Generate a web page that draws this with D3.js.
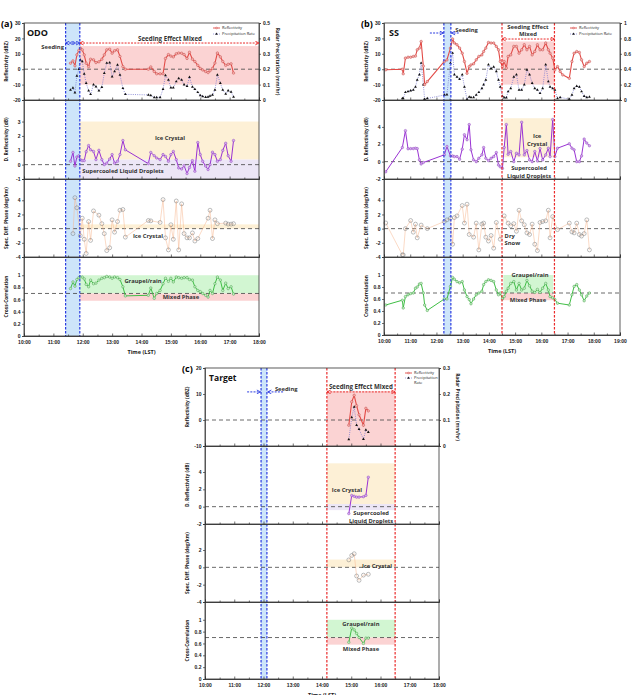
<!DOCTYPE html>
<html>
<head>
<meta charset="utf-8">
<script src="https://d3js.org/d3.v7.min.js"></script>
<style>
  body { margin: 0; background: #fff; }
  svg { display: block; font-family: "Open Sans", "Noto Sans", sans-serif; }
  .axis text { font-size: 5px; font-weight: 600; fill: #222; }
  .axis path, .axis line { stroke: #333; stroke-width: 0.7; }
  .lab { font-size: 4.8px; font-weight: 700; fill: #222; }
  .note { font-size: 5.8px; font-weight: 700; fill: #333; }
  .leg { font-size: 4px; fill: #222; }
</style>
</head>
<body>
<svg width="634" height="695"></svg>
<script>
// ---- panel (a) ODO ----
const timesA = ["11:35","11:40","11:44","11:48","11:52","11:55","11:59","12:03","12:07","12:12",
  "12:16","12:22","12:27","12:33","12:39","12:44","12:49","12:55","13:00","13:05",
  "13:11","13:16","13:22","13:27","14:14","14:19","14:26","14:31","14:38","14:44",
  "14:49","14:55","15:00","15:05","15:11","15:16","15:22","15:27","15:33","15:38",
  "15:44","15:49","15:55","16:00","16:05","16:11","16:16","16:20","16:25","16:30",
  "16:35","16:41","16:46","16:52","16:57","17:03","17:08"];
const reflA = [3.9,5.4,2.2,9.3,12.2,13.7,12.6,9.3,3.9,1.7,
  6.5,6.1,4.3,4.8,6.5,9.3,12.6,13.0,10.4,12.0,
  12.6,8.3,1.7,0,0,1.5,-1.5,-3,-3,-3,
  7,9.5,8.5,8,10,10.5,10.4,9.5,7,11,
  6.5,5,2.5,0.5,-0.5,-1.5,-2.2,-1,0.5,4,
  10.5,8,5,2.5,3.2,3.5,-2.5];
const rainA = [0.065,0.078,0.048,0.157,0.2,0.26,0.25,0.17,0.11,0.06,
  0.037,0.10,0.087,0.06,0.083,0.174,0.24,0.243,0.152,0.185,
  0.228,0.163,0.076,0.037,0.033,0.03,0.017,0.017,0.017,0.07,
  0.16,0.13,0.08,0.08,0.12,0.14,0.13,0.1,0.09,0.148,
  0.085,0.07,0.05,0.03,0.024,0.018,0.02,0.026,0.033,0.065,
  0.163,0.11,0.065,0.04,0.06,0.052,0.02];
const zdrA = [0.23,0.85,-0.1,0.53,0.62,0.35,0.28,0.28,0.9,1.33,
  1.03,0.92,0.35,1.0,0.35,0,0.1,0.39,0.7,0.1,
  0.23,0.7,1.68,1.03,0.07,0.85,0.62,0.46,0.35,0.7,
  0.57,0.23,0.7,0.92,0.35,-0.23,-0.3,-0.07,-0.62,-0.2,
  0.28,-0.46,1.54,0.7,0.23,-0.1,-0.34,0,0.87,0.7,
  0.23,0.35,0.99,1.49,0.62,0.23,1.68];
const kdpA = [null,-0.7,4.37,2.94,null,-1,1.47,-1.5,-3.5,1.0,
  -1.66,2.5,null,1.9,0.7,-0.7,-3.1,-2.7,1.24,-0.5,
  1.0,2.6,2.7,-1.2,1.15,1.1,null,null,0.87,4.1,
  -1.3,-3.0,0.55,-1.5,3.9,-3.0,3.5,-0.7,-1.3,-1.3,
  -0.6,-1.75,-1.4,null,null,null,1.47,2.6,-1.4,1.24,
  0.7,null,null,0.78,0.64,0.64,0.7];
const rhvA = [0.78,0.89,0.82,0.93,0.96,0.97,0.97,0.94,0.85,0.81,
  0.92,0.86,0.87,0.92,0.95,0.96,0.98,0.97,0.95,0.97,
  0.96,0.93,0.81,0.66,0.67,0.79,0.62,0.7,0.75,0.86,
  0.95,0.9,0.95,0.89,0.97,0.96,0.95,0.96,0.96,0.93,
  0.92,0.81,0.75,0.73,0.7,0.67,0.64,0.75,0.7,0.86,
  0.97,0.92,0.75,0.87,0.78,0.81,0.69];

// ---- panel (b) SS ----
const timesB = ["10:04","10:42","10:44","10:49","10:55","11:01","11:07","11:12","11:16","11:21",
  "11:25","11:30","11:33","11:39","12:18","12:24","12:32","12:37","12:41","12:47",
  "12:53","12:59","13:04","13:10","13:15","13:19","13:25","13:31","13:37","13:44",
  "13:48","13:53","13:59","14:05","14:11","14:17","14:22","14:26","14:31","14:35",
  "14:40","14:44","14:50","14:57","15:03","15:09","15:15","15:21","15:27","15:33",
  "15:39","15:45","15:51","15:57","16:03","16:10","16:16","16:20","16:26","16:31",
  "16:37","16:43","16:49","17:04","17:10","17:15","17:21","17:27","17:32","17:38",
  "17:44","17:50"];
const reflB = [-0.4,0,-3,7.2,7.8,7.8,8.3,8.5,12.6,13.7,
  18,2,-10,-8,5,6,13.7,19.6,17,15.9,
  13.7,10.4,5,-2.6,1.7,2.8,3.5,6.1,8.3,9.3,
  11.5,13.7,17.4,17,17,14.8,12.6,5,1.7,5,
  0.7,8.3,9.3,14.8,14.8,10.4,12.6,15.9,12.6,14.8,
  9.3,11.5,15.9,12.6,12.6,17,12.6,10.4,7.2,-0.4,
  1.7,-1.5,-3.7,-5.9,5,10.4,11.5,10.9,6.1,1.7,
  3.9,5];
const rainB = [null,0.02,0.02,0.1,0.11,0.12,0.13,0.17,0.26,0.33,
  0.48,0.2,0.01,0.02,0.065,0.07,0.48,0.61,0.33,0.3,
  0.27,0.33,0.17,0.01,0.04,0.035,0.035,0.065,0.1,0.15,
  0.2,0.26,0.46,0.41,0.43,0.37,0.26,0.17,0.05,0.03,
  0.03,0.11,0.15,0.3,0.33,0.13,0.13,0.2,0.39,0.33,
  0.22,0.15,0.13,0.087,0.15,0.46,0.24,0.17,0.15,0.13,
  0.02,0.035,null,0.01,0.065,0.15,0.18,0.17,0.11,0.05,
  0.035,0.04];
const zdrB = [-1.17,1.63,null,3.57,1.48,1.5,1.5,1.55,1.5,0.2,
  -0.27,-0.1,null,null,0.78,1.75,0.66,0.66,0.58,0.58,
  0.27,1.44,3.1,2.52,4.27,1.36,0.2,0,0.39,0.78,
  1.63,0.39,0.12,0.39,0.58,1.05,-0.39,-0.6,-0.78,1.63,
  4.27,0.85,1.17,0,0.97,0.78,4.54,0.78,1.28,0.2,
  0,1.17,0.08,1.51,0.2,0.78,1.55,0.58,4.85,0.58,
  1.55,null,null,2.06,1.55,1.36,0,0,0.66,2.6,
  2.14,1.83];
const kdpB = [0.8,-3.7,-3.7,0,null,1.15,-0.5,0.64,-1.3,null,
  0.5,null,null,0,1.0,1.24,1.47,-2.2,1.56,1.8,
  null,3.26,0.78,3.45,-0.83,null,-1.2,0.78,-3,0.64,
  0.78,-1.2,-1.75,-0.97,-2.76,0.87,null,-1.5,null,1.8,
  null,0.78,0.4,0.7,-0.37,2.6,1.1,0.55,-0.6,-0.83,
  0.64,-2.2,-3.1,0.87,1.0,1.1,2.6,-1.3,1.7,null,
  -0.14,null,null,0.78,-0.46,-0.6,0.78,-0.83,-1.05,-0.7,
  1.24,-3.0];
const rhvB = [0.5,0.58,0.45,0.64,0.67,0.69,0.7,0.78,0.8,0.85,
  0.86,0.7,0.5,0.41,0.6,0.6,0.81,0.96,0.93,0.89,
  0.87,0.89,0.75,0.64,0.59,0.52,0.6,0.67,0.7,0.73,
  0.84,0.89,0.92,0.91,0.89,0.75,0.67,0.7,0.6,0.64,
  0.73,0.78,0.86,0.89,0.75,0.86,0.75,0.78,0.91,0.82,
  0.73,0.71,0.76,0.71,0.78,0.86,0.75,0.64,0.62,0.59,
  0.53,null,null,0.5,0.67,0.81,0.84,0.75,0.67,0.57,
  0.65,0.7];

// ---- panel (c) Target ----
const timesC = ["14:55","15:01","15:06","15:11","15:16","15:25","15:30","15:35"];
const reflC = [-2,7,9.5,5.5,2,-2,4.5,3.5];
const rainC = [0.025,0.11,0.15,0.08,0.065,0.026,0.062,0.053];
const zdrC = [-0.8,1.3,1.2,1.1,1.1,1.15,1.3,3.4];
const kdpC = [0.86,1.37,1.57,-1.0,-1.5,-0.9,null,-0.8];
const rhvC = [0.62,0.86,0.83,0.77,0.7,0.6,0.69,0.69];

const rowLabels = ["Reflectivity (dBZ)", "D. Reflectivity (dB)", "Spec. Diff. Phase (deg/km)", "Cross-Correlation"];
const rhvTicks = [0, 0.2, 0.4, 0.6, 0.8, 1];

const PINK = "#fbd3d3", YEL = "#fdf0d6", LAV = "#ece6f6", GRN = "#d2f6d2", SEED = "#cde5fa";
const RED = "#ea2a2a", BLUE = "#2a3be0";

const hr = s => typeof s === "number" ? s : (([h, m]) => h + m / 60)(s.split(":").map(Number));

const svg = d3.select("svg");
const defs = svg.append("defs");
[["arrR", RED], ["arrB", BLUE]].forEach(([id, c]) => {
  defs.append("marker").attr("id", id).attr("viewBox", "0 0 8 8").attr("refX", 7).attr("refY", 4)
    .attr("markerWidth", 5).attr("markerHeight", 5).attr("markerUnits", "userSpaceOnUse")
    .attr("orient", "auto-start-reverse")
    .append("path").attr("d", "M1,1 L7,4 L1,7").attr("fill", "none").attr("stroke", c).attr("stroke-width", 1.4);
});

const panels = [
  {
    tag: "(a)", site: "ODO", times: timesA, refl: reflA, rain: rainA, zdr: zdrA, kdp: kdpA, rhv: rhvA,
    left: 24, right: 259, top: 23, rows: [100, 179, 257, 336], xEnd: 18,
    doms: [[-20, 30], [-1, 4.5], [-4, 7], [0, 1.3]],
    ticks: [[-20, -10, 0, 10, 20, 30], [-1, 0, 1, 2, 3], [-4, -2, 0, 2, 4], rhvTicks],
    rainDom: [0, 0.5], rainTicks: [0, 0.1, 0.2, 0.3, 0.4, 0.5],
    seed: ["11:25", "11:54"], effect: null, legendDx: -46, rightLabel: true,
    bands: [
      [0, 11.9, 18, -10, 15, PINK], [1, 11.9, 18, 0.35, 3, YEL], [1, 11.9, 18, -1, 0.35, LAV],
      [2, 11.9, 18, 0, 0.6, YEL], [3, 11.9, 18, 0.7, 1.0, GRN], [3, 11.9, 18, 0.58, 0.7, PINK]
    ],
    arrows: [[11.9, 18, 17, RED, true], [11.417, 11.9, 17, BLUE, true]],
    notes: [
      [0, 10.1, 23.5, "ODO", 9, "start"], [0, 11.36, 14.4, "Seeding", 5.8, "end"],
      [0, 14.97, 19.8, "Seeding Effect Mixed", 6.2], [1, 14.97, 1.86, "Ice Crystal"],
      [1, 13.37, -0.44, "Supercooled Liquid Droplets"], [2, 14.22, -1.04, "Ice Crystal"],
      [3, 14.05, 0.905, "Graupel/rain"], [3, 15.34, 0.64, "Mixed Phase"]
    ]
  },
  {
    tag: "(b)", site: "SS", times: timesB, refl: reflB, rain: rainB, zdr: zdrB, kdp: kdpB, rhv: rhvB,
    left: 384, right: 620, top: 23, rows: [100, 179, 257, 335], xEnd: 19,
    doms: [[-20, 30], [-2, 7.1], [-4, 7], [0, 1.3]],
    ticks: [[-20, -10, 0, 10, 20, 30], [-2, 0, 2, 4], [-4, -2, 0, 2, 4], rhvTicks],
    rainDom: [0, 1], rainTicks: [0, 0.2, 0.4, 0.6, 0.8, 1],
    seed: ["12:17", "12:33"], effect: ["14:30", "16:30"], legendDx: -50, rightLabel: false,
    bands: [
      [0, 14.5, 16.5, -10, 18, PINK], [1, 14.58, 16.45, 0.5, 5, YEL],
      [3, 14.55, 16.45, 0.7, 1.0, GRN], [3, 14.55, 16.45, 0.58, 0.7, PINK]
    ],
    arrows: [[14.5, 16.5, 19.6, RED, true], [11.75, 12.27, 23.5, BLUE, false], [12.85, 12.57, 23.5, BLUE, false]],
    notes: [
      [0, 10.19, 23.5, "SS", 9, "start"], [0, 12.72, 25.5, "Seeding", 5.8, "start"],
      [0, 15.49, 27.2, "Seeding Effect", 5.9], [0, 15.49, 22.6, "Mixed", 5.9],
      [1, 15.84, 2.9, "Ice"], [1, 15.84, 2.05, "Crystal"],
      [1, 15.53, -0.73, "Supercooled"], [1, 15.53, -1.65, "Liquid Droplets"],
      [2, 14.6, -1.0, "Dry", 5.8, "start"], [2, 14.6, -2.0, "Snow", 5.8, "start"],
      [3, 15.57, 1.0, "Graupel/rain"], [3, 15.49, 0.58, "Mixed Phase"]
    ]
  },
  {
    tag: "(c)", site: "Target", times: timesC, refl: reflC, rain: rainC, zdr: zdrC, kdp: kdpC, rhv: rhvC,
    left: 205, right: 439, top: 368, rows: [446, 524, 602, 679], xEnd: 18,
    doms: [[-10, 20], [-2, 7], [-4, 5], [0, 1.3]],
    ticks: [[-10, 0, 10, 20], [-2, 0, 2, 4], [-4, -2, 0, 2], rhvTicks],
    rainDom: [0, 0.3], rainTicks: [0, 0.1, 0.2, 0.3],
    seed: ["11:55", "12:07"], effect: ["14:10", "16:30"], legendDx: -34, rightLabel: true, twoLineLegend: true,
    bands: [
      [0, 14.17, 16.5, -10, 11, PINK], [1, 14.17, 16.5, 0.3, 5, YEL], [1, 14.17, 16.5, -0.4, 0.3, LAV],
      [2, 14.17, 16.5, 0, 0.9, YEL], [3, 14.17, 16.5, 0.7, 1.0, GRN], [3, 14.17, 16.5, 0.58, 0.7, PINK]
    ],
    arrows: [[14.17, 16.5, 10.8, RED, true], [11.44, 11.9, 10.8, BLUE, false], [12.67, 12.14, 10.8, BLUE, false]],
    notes: [
      [0, 10.14, 16.2, "Target", 8.5, "start"], [0, 12.39, 11.9, "Seeding", 5.8, "start"],
      [0, 15.33, 12.9, "Seeding Effect Mixed", 6.2], [1, 14.85, 1.92, "Ice Crystal"],
      [1, 15.68, -0.73, "Supercooled"], [1, 15.68, -1.65, "Liquid Droplets"],
      [2, 15.88, 0.15, "Ice Crystal"], [3, 15.33, 0.93, "Graupel/rain"], [3, 15.33, 0.51, "Mixed Phase"]
    ]
  }
];

function drawSeries(g, x, y, times, vals, o) {
  const pts = times.map((t, i) => [hr(t), vals[i]]).filter(d => d[1] != null);
  g.append("path").datum(pts)
    .attr("fill", "none").attr("stroke", o.line).attr("stroke-width", o.lw)
    .attr("stroke-dasharray", o.dash || null)
    .attr("d", d3.line().x(d => x(d[0])).y(d => y(d[1])));
  g.selectAll(null).data(pts).join("path")
    .attr("transform", d => `translate(${x(d[0])},${y(d[1])})`)
    .attr("d", d3.symbol(o.sym, o.size))
    .attr("fill", o.fill).attr("stroke", o.stroke).attr("stroke-width", o.sw);
}

function drawPanel(p) {
  const g = svg.append("g");
  const x = d3.scaleLinear().domain([10, p.xEnd]).range([p.left, p.right]);
  const tops = [p.top].concat(p.rows.slice(0, 3));
  const ys = p.doms.map((d, i) => d3.scaleLinear().domain(d).range([p.rows[i], tops[i]]));
  const yRain = d3.scaleLinear().domain(p.rainDom).range([p.rows[0], p.top]);
  const bottom = p.rows[3];

  // shaded class regions
  p.bands.forEach(([r, t0, t1, v0, v1, c]) => {
    g.append("rect").attr("x", x(t0)).attr("width", x(t1) - x(t0))
      .attr("y", ys[r](v1)).attr("height", ys[r](v0) - ys[r](v1)).attr("fill", c);
  });
  // seeding window
  const s0 = x(hr(p.seed[0])), s1 = x(hr(p.seed[1]));
  g.append("rect").attr("x", s0).attr("width", s1 - s0).attr("y", p.top).attr("height", bottom - p.top).attr("fill", SEED);

  // reference dashed lines
  [0, 0, 0, 0.7].forEach((v, i) => {
    g.append("line").attr("x1", p.left).attr("x2", p.right).attr("y1", ys[i](v)).attr("y2", ys[i](v))
      .attr("stroke", "#444").attr("stroke-width", 0.8).attr("stroke-dasharray", "4,3");
  });

  // series
  drawSeries(g, x, yRain, p.times, p.rain, { line: "#7a7ad0", lw: 0.8, dash: "1,1.2", sym: d3.symbolTriangle, size: 3.5, fill: "#111", stroke: "none", sw: 0 });
  drawSeries(g, x, ys[0], p.times, p.refl, { line: "#e24a46", lw: 1.1, sym: d3.symbolCircle, size: 5, fill: "#f7b0ae", stroke: "#b83a38", sw: 0.4 });
  drawSeries(g, x, ys[1], p.times, p.zdr, { line: "#9a32d4", lw: 1, sym: d3.symbolCircle, size: 5, fill: "#d6a8ef", stroke: "#7d35b0", sw: 0.4 });
  drawSeries(g, x, ys[2], p.times, p.kdp, { line: "#f6b48c", lw: 0.5, sym: d3.symbolCircle, size: 12, fill: "none", stroke: "#7a7a7a", sw: 0.5 });
  drawSeries(g, x, ys[3], p.times, p.rhv, { line: "#3fbf45", lw: 1, sym: d3.symbolCircle, size: 5, fill: "#c2f2c2", stroke: "#2f8a34", sw: 0.4 });

  // vertical lines
  const vline = (t, c) => g.append("line").attr("x1", x(hr(t))).attr("x2", x(hr(t)))
    .attr("y1", p.top).attr("y2", bottom).attr("stroke", c).attr("stroke-width", 1.2).attr("stroke-dasharray", "2.5,1.5");
  p.seed.forEach(t => vline(t, BLUE));
  if (p.effect) p.effect.forEach(t => vline(t, RED));

  // axes
  ys.forEach((y, i) => {
    g.append("g").attr("class", "axis").attr("transform", `translate(${p.left},0)`)
      .call(d3.axisLeft(y).tickValues(p.ticks[i]).tickSize(2).tickPadding(1.5).tickFormat(d => d));
    const last = i === 3;
    g.append("g").attr("class", "axis").attr("transform", `translate(0,${p.rows[i]})`)
      .call(d3.axisBottom(x).tickValues(d3.range(10, p.xEnd + 0.01, 1)).tickSize(-2.5).tickPadding(4)
        .tickFormat(d => last ? `${d}:00` : ""));
    g.append("g").attr("class", "axis").attr("transform", `translate(0,${p.rows[i]})`)
      .call(d3.axisBottom(x).tickValues(d3.range(10.5, p.xEnd, 1)).tickSize(-1.5).tickFormat(""));
    g.append("text").attr("class", "lab").attr("text-anchor", "middle")
      .attr("transform", `translate(${p.left - 16},${(p.rows[i] + tops[i]) / 2}) rotate(-90)`).text(rowLabels[i]);
  });
  g.append("g").attr("class", "axis").attr("transform", `translate(${p.right},0)`)
    .call(d3.axisRight(yRain).tickValues(p.rainTicks).tickSize(2).tickPadding(2).tickFormat(d => d));
  if (p.rightLabel) {
    g.append("text").attr("class", "lab").attr("text-anchor", "middle")
      .attr("transform", `translate(${p.right + 17},${(p.top + p.rows[0]) / 2}) rotate(90)`)
      .text("Radar Precipitation (mm/hr)");
  }

  // frame
  g.append("rect").attr("x", p.left).attr("y", p.top).attr("width", p.right - p.left).attr("height", bottom - p.top)
    .attr("fill", "none").attr("stroke", "#333").attr("stroke-width", 0.8);
  p.rows.slice(0, 3).forEach(yy => g.append("line").attr("x1", p.left).attr("x2", p.right)
    .attr("y1", yy).attr("y2", yy).attr("stroke", "#333").attr("stroke-width", 0.8));

  g.append("text").attr("class", "lab").style("font-size", "5.5px").attr("text-anchor", "middle")
    .attr("x", (p.left + p.right) / 2).attr("y", bottom + 18).text("Time (LST)");

  // annotation arrows
  p.arrows.forEach(([t0, t1, v, c, both]) => {
    g.append("line").attr("x1", x(t0)).attr("x2", x(t1)).attr("y1", ys[0](v)).attr("y2", ys[0](v))
      .attr("stroke", c).attr("stroke-width", 1).attr("stroke-dasharray", "2,1.2")
      .attr("marker-end", `url(#${c === RED ? "arrR" : "arrB"})`)
      .attr("marker-start", both ? `url(#${c === RED ? "arrR" : "arrB"})` : null);
  });
  if (p.tag === "(a)") {
    g.append("ellipse").attr("cx", (s0 + s1) / 2).attr("cy", ys[0](17)).attr("rx", 2).attr("ry", 1.5)
      .attr("fill", "none").attr("stroke", BLUE).attr("stroke-width", 0.7);
  }

  // annotation text
  p.notes.forEach(([r, t, v, txt, size, anchor]) => {
    g.append("text").attr("class", "note").attr("x", x(t)).attr("y", ys[r](v)).attr("dy", "0.35em")
      .attr("text-anchor", anchor || "middle").style("font-size", `${size || 5.8}px`)
      .style("fill", size >= 8 ? "#111" : "#333").text(txt);
  });
  g.append("text").attr("x", p.left - 23).attr("y", p.top + 4).style("font-size", "9px").style("font-weight", 700)
    .text(p.tag);

  // legend
  const lx = p.right + p.legendDx, ly = p.top + 5;
  const leg = g.append("g").attr("transform", `translate(${lx},${ly})`);
  leg.append("line").attr("x1", 0).attr("x2", 7).attr("stroke", "#e24a46").attr("stroke-width", 0.9);
  leg.append("circle").attr("cx", 3.5).attr("r", 1).attr("fill", "#f7b0ae").attr("stroke", "#b83a38").attr("stroke-width", 0.3);
  leg.append("text").attr("class", "leg").attr("x", 9).attr("dy", "0.35em").text("Reflectivity");
  const ry = p.twoLineLegend ? 5 : 6;
  leg.append("line").attr("x1", 0).attr("x2", 7).attr("y1", ry).attr("y2", ry).attr("stroke", "#7a7ad0")
    .attr("stroke-width", 0.7).attr("stroke-dasharray", "1,1");
  leg.append("path").attr("transform", `translate(3.5,${ry})`).attr("d", d3.symbol(d3.symbolTriangle, 3)).attr("fill", "#111");
  if (p.twoLineLegend) {
    leg.append("text").attr("class", "leg").attr("x", 9).attr("y", ry).attr("dy", "0.35em").text("Precipitation");
    leg.append("text").attr("class", "leg").attr("x", 9).attr("y", ry + 4.5).attr("dy", "0.35em").text("Rate");
  } else {
    leg.append("text").attr("class", "leg").attr("x", 9).attr("y", ry).attr("dy", "0.35em").text("Precipitation Rate");
  }
}

panels.forEach(drawPanel);
</script>
</body>
</html>
